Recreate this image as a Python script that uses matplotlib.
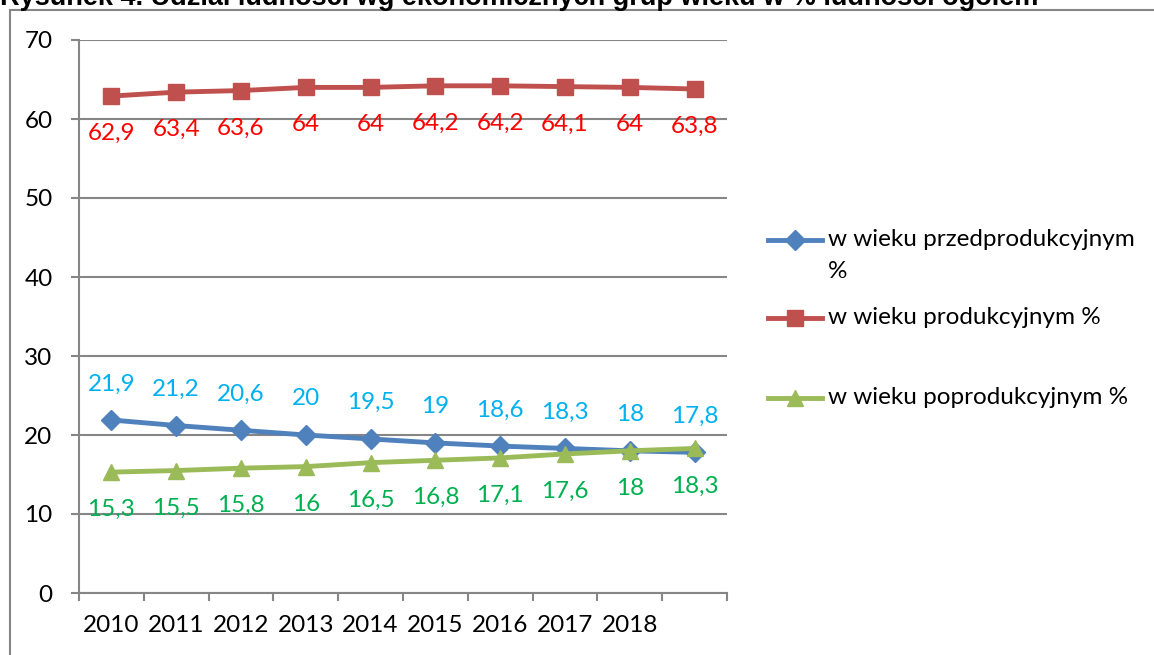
import matplotlib
matplotlib.use("Agg")
from matplotlib import pyplot as plt
from matplotlib.lines import Line2D
from matplotlib.patches import Rectangle

plt.rcParams['font.family'] = ['Lato', 'DejaVu Sans']

years = ['2010', '2011', '2012', '2013', '2014', '2015', '2016', '2017', '2018', '']
przed = [21.9, 21.2, 20.6, 20.0, 19.5, 19.0, 18.6, 18.3, 18.0, 17.8]
prod = [62.9, 63.4, 63.6, 64.0, 64.0, 64.2, 64.2, 64.1, 64.0, 63.8]
poprod = [15.3, 15.5, 15.8, 16.0, 16.5, 16.8, 17.1, 17.6, 18.0, 18.3]

labels = ['w wieku przedprodukcyjnym\n%', 'w wieku produkcyjnym %', 'w wieku poprodukcyjnym %']

W, H = 1154, 655
FS = 17.5
fig = plt.figure(figsize=(W / 100, H / 100), dpi=100)
ax = fig.add_axes([79 / W, 1 - 593 / H, 648 / W, 553 / H])

grid_c = '#868686'

# outer chart border (clipped at right/bottom like the screenshot)
fig.add_artist(Rectangle((10 / W, -0.1), 1.2, 1 - 10 / H + 0.1, transform=fig.transFigure,
                         fill=False, edgecolor=grid_c, lw=1.5))

# title, cut off at the top as in the source image
fig.text(0, 1 - 5 / H, 'Rysunek 4. Udział ludności wg ekonomicznych grup wieku w % ludności ogółem',
         family='Liberation Sans', weight='bold', fontsize=19.5, va='baseline', ha='left')

x = list(range(len(years)))
series = [
    (przed, '#4F81BD', 'D', 10, '#00B0F0', 26),
    (prod, '#C0504D', 's', 11, '#FF0000', -27),
    (poprod, '#9BBB59', '^', 12, '#00B050', -27),
]
for vals, col, mk, ms, lc, off in series:
    ax.plot(x, vals, color=col, lw=3.5, marker=mk, markersize=ms, zorder=3)
    for xi, v in zip(x, vals):
        ax.annotate(('%g' % v).replace('.', ','), (xi, v), xytext=(0, off), textcoords='offset points',
                    ha='center', va='center', color=lc, fontsize=FS)

ax.set_xlim(-0.5, 9.5)
ax.set_ylim(0, 70)
ax.set_yticks(range(0, 71, 10))
ax.yaxis.grid(True, color=grid_c, lw=1.5)
ax.set_axisbelow(True)
ax.set_xticks([i - 0.5 for i in range(11)])
ax.set_xticklabels([])
ax.set_xticks(x, minor=True)
ax.set_xticklabels(years, minor=True)
ax.tick_params(axis='x', which='major', length=6, width=1.5, color=grid_c, direction='out')
ax.tick_params(axis='x', which='minor', length=0, pad=16, labelsize=FS)
ax.tick_params(axis='y', length=6, width=1.5, color=grid_c, pad=13, labelsize=FS)
for s in ['top', 'right']:
    ax.spines[s].set_visible(False)
for s in ['left', 'bottom']:
    ax.spines[s].set_color(grid_c)
    ax.spines[s].set_linewidth(1.5)

# legend drawn by hand to mimic Excel's layout
leg_y = [240, 318, 398]
for (vals, col, mk, ms, lc, off), lab, yy in zip(series, labels, leg_y):
    yf = 1 - yy / H
    fig.add_artist(Line2D([768 / W, 822 / W], [yf, yf], transform=fig.transFigure, color=col, lw=3.5))
    fig.add_artist(Line2D([795 / W], [yf], transform=fig.transFigure, color=col, marker=mk, markersize=ms))
    for k, part in enumerate(lab.split('\n')):
        fig.text(828 / W, 1 - (yy + 31 * k) / H, part, fontsize=FS, va='center', ha='left')

fig.savefig('out.png', dpi=100)
